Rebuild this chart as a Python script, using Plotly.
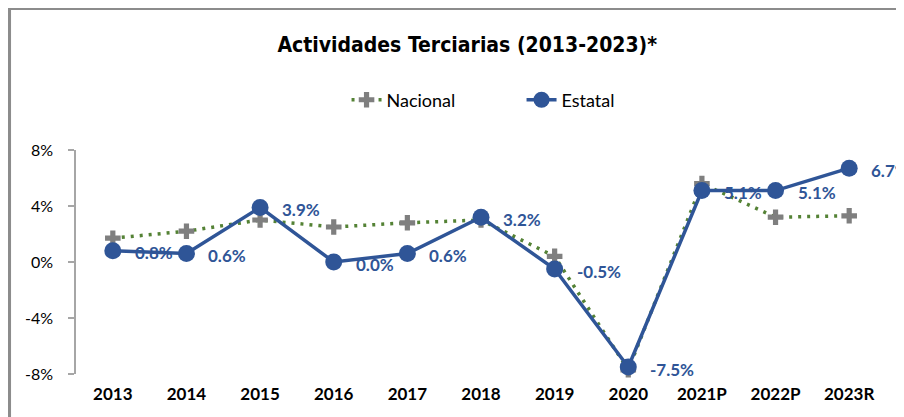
import plotly.graph_objects as go

# Data (tasa de crecimiento anual, %)
years = ['2013', '2014', '2015', '2016', '2017', '2018', '2019', '2020', '2021P', '2022P', '2023R']
nacional = [1.7, 2.2, 3.0, 2.5, 2.8, 3.0, 0.4, -7.7, 5.6, 3.2, 3.3]
estatal = [0.8, 0.6, 3.9, 0.0, 0.6, 3.2, -0.5, -7.5, 5.1, 5.1, 6.7]
ytick_vals = [-8, -4, 0, 4, 8]
ytick_text = ['-8%', '-4%', '0%', '4%', '8%']

BLUE = '#2F5597'
GREEN = '#548235'
GRAY = '#7F7F7F'
AXIS = '#A6A6A6'
FONT = 'Lato, Calibri, Carlito, sans-serif'

fig = go.Figure()

fig.add_trace(go.Scatter(
    x=years, y=nacional, name='Nacional', mode='lines+markers',
    line=dict(color=GREEN, width=3.5, dash='3px,6px'),
    marker=dict(symbol='cross', size=13, color=GRAY),
    cliponaxis=False,
))

fig.add_trace(go.Scatter(
    x=years, y=estatal, name='Estatal', mode='lines+markers',
    line=dict(color=BLUE, width=3.5),
    marker=dict(symbol='circle', size=17, color=BLUE),
    cliponaxis=False,
))

# data labels for Estatal, to the right of each marker
# (category index used for x so that '2013'-like names are not read as numbers)
labels = [dict(x=i, y=v, text=f'<b>{v:.1f}%</b>', showarrow=False,
               xanchor='left', yanchor='middle', xshift=20, yshift=-2,
               font=dict(family=FONT, size=17, color=BLUE))
          for i, v in enumerate(estatal)]

# gray outer frame (cropped chart border)
frame = [
    dict(type='rect', xref='paper', yref='paper', x0=-0.0852, x1=-0.0802, y0=-0.3, y1=1.634,
         fillcolor='#8C8C8C', line_width=0, layer='above'),
    dict(type='rect', xref='paper', yref='paper', x0=-0.0852, x1=1.05, y0=1.625, y1=1.634,
         fillcolor='#8C8C8C', line_width=0, layer='above'),
]

fig.update_layout(
    width=896, height=409,
    margin=dict(l=68, r=18, t=142, b=43),
    paper_bgcolor='white', plot_bgcolor='white',
    font=dict(family=FONT, size=16, color='black'),
    title=dict(
        text='<b>Actividades Terciarias (2013-2023)*</b>',
        x=0.483, xref='paper', xanchor='center',
        y=1 - 37 / 409, yref='container', yanchor='middle',
        font=dict(family='DejaVu Sans Condensed, Liberation Sans Narrow, sans-serif',
                  size=21, color='black'),
    ),
    showlegend=True,
    legend=dict(
        orientation='h', x=0.334, xanchor='left', y=1.223, yanchor='middle',
        font=dict(family=FONT, size=18, color='black'),
        itemwidth=30, entrywidth=130, traceorder='normal',
    ),
    xaxis=dict(
        type='category', range=[-0.5, 10.5],
        showline=False, showgrid=False, zeroline=False, ticks='',
        tickfont=dict(family=FONT, size=17, color='black', weight='bold'),
        ticklabelstandoff=8,
    ),
    xaxis2=dict(
        overlaying='x', anchor='free', position=0.5,
        range=[-0.5, 10.5], tick0=-0.5, dtick=1,
        showline=True, linecolor=AXIS, linewidth=1.5,
        ticks='outside', ticklen=6, tickcolor=AXIS, tickwidth=1.5,
        showticklabels=False, showgrid=False, zeroline=False,
    ),
    yaxis=dict(
        range=[-8, 8], tickvals=ytick_vals, ticktext=ytick_text,
        showline=True, linecolor=AXIS, linewidth=1.5,
        ticks='outside', ticklen=6, tickcolor=AXIS, tickwidth=1.5,
        showgrid=False, zeroline=False,
        tickfont=dict(family=FONT, size=16, color='black'),
        ticklabelstandoff=12,
    ),
    annotations=labels,
    shapes=frame,
)

fig.write_html('out.html')
